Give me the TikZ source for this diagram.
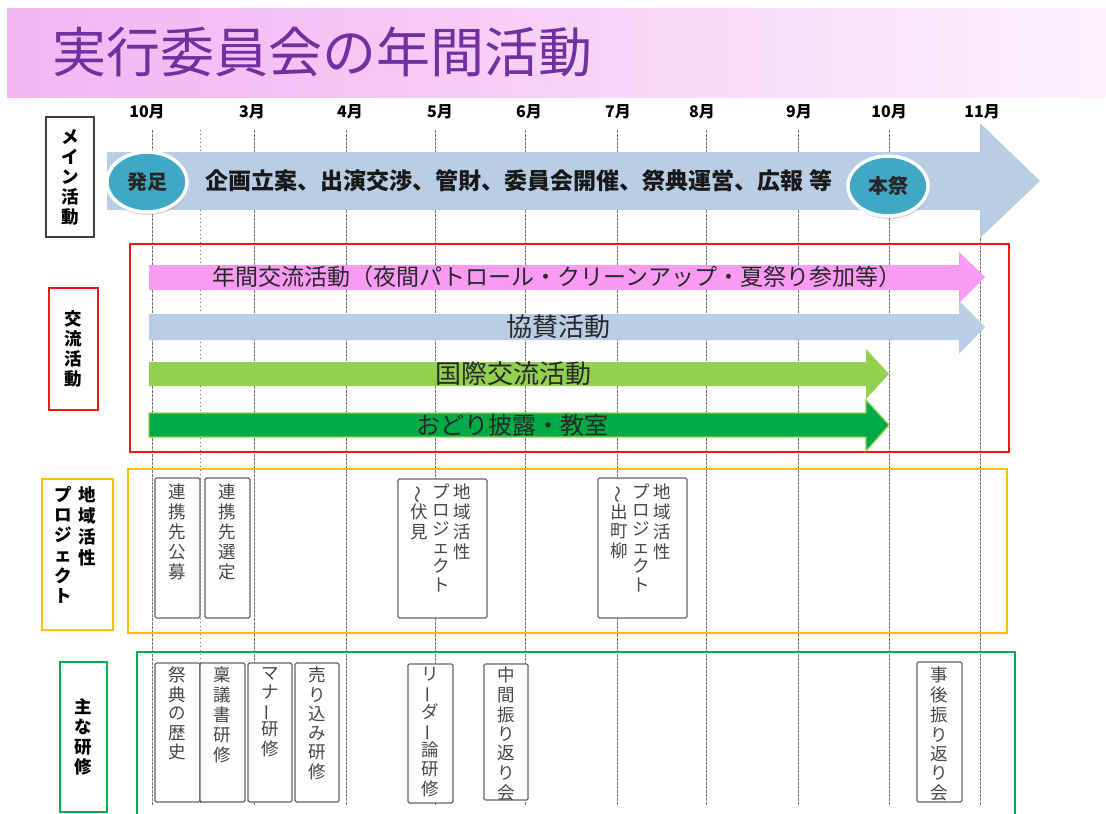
\documentclass[tikz,border=0pt]{standalone}
\usepackage{fontspec}
\setmainfont{Noto Sans CJK JP}
\usepackage{graphicx}
\usetikzlibrary{shapes.geometric,shadows}
\definecolor{titlepurple}{RGB}{112,48,160}
\definecolor{mainblue}{RGB}{185,205,229}
\definecolor{pinkbar}{RGB}{249,155,243}
\definecolor{lgreen}{RGB}{146,208,80}
\definecolor{dgreen}{RGB}{0,170,70}
\definecolor{redc}{RGB}{240,20,20}
\definecolor{orangec}{RGB}{255,192,0}
\definecolor{greenc}{RGB}{0,176,80}
\definecolor{tealc}{RGB}{64,168,196}
\definecolor{gridc}{RGB}{115,115,115}
\definecolor{itemtext}{RGB}{70,70,70}
\definecolor{itemline}{RGB}{100,100,100}
\definecolor{bartext}{RGB}{40,40,40}
\pgfdeclarehorizontalshading{tband}{100bp}{rgb(0bp)=(0.93,0.62,0.93); rgb(40bp)=(0.96,0.77,0.96); rgb(85bp)=(1,1,1); rgb(100bp)=(0.95,0.96,0.98)}
\newcommand\vcol[1]{\begin{tabular}[t]{@{}c@{}}#1\end{tabular}}
\newcommand\vlong{\rotatebox[origin=c]{90}{ー}}
\newcommand\vwave{\rotatebox[origin=c]{90}{～}}
\begin{document}
\begin{tikzpicture}[x=1pt,y=-1pt,
  gridline/.style={gridc, line width=0.8pt, dash pattern=on 2.5pt off 1.5pt},
  fineline/.style={gridc, line width=0.8pt, dash pattern=on 1.2pt off 2.8pt},
  month/.style={font=\fontsize{16}{16}\selectfont\bfseries, inner sep=0pt},
  sidebox/.style={draw=#1, line width=2.5pt, fill=white},
  sidetext/.style={font=\fontsize{17.5}{20}\selectfont\bfseries, inner sep=0pt, align=center},
  secbox/.style={draw=#1, line width=2.5pt},
  itembox/.style={draw=itemline, line width=1.2pt, fill=white, rounded corners=1.5pt},
  itemtext/.style={text=itemtext, font=\fontsize{17.5}{17.7}\selectfont, inner sep=0pt, anchor=north},
  bubble/.style={ellipse, draw=white, line width=3.5pt, fill=tealc, minimum width=80pt, minimum height=60pt, inner sep=0pt,
     font=\fontsize{20}{20}\selectfont\bfseries, text=black!85, drop shadow={opacity=0.3, shadow xshift=1pt, shadow yshift=-3pt}},
  bartxt/.style={text=bartext, inner sep=0pt}
]
\clip (0,0) rectangle (1106,814);
\fill[white] (0,0) rectangle (1106,814);
% title band
\shade[shading=tband] (7,8) rectangle (1106,97);
\node[anchor=west, text=titlepurple, font=\fontsize{54}{54}\selectfont, inner sep=0pt] (title) at (52,52) {実行委員会の年間活動};
% months
\foreach \x/\m [count=\i] in {147/10月,252/3月,350/4月,440/5月,529/6月,618/7月,702/8月,799/9月,889/10月,982/11月}
  \node[month] (m\i) at (\x,112) {\m};
% grid lines
\foreach \x in {152,254,346,435,525,617,706,798,889,980}
  \draw[gridline] (\x,130) -- (\x,806);
\draw[fineline] (200,130) -- (200,806);
% main arrow
\fill[mainblue] (107,152) -- (980,152) -- (980,123) -- (1040,181) -- (980,238) -- (980,210) -- (107,210) -- cycle;
\node[bartxt, text=black!90, font=\fontsize{23}{23}\selectfont\bfseries] (maintxt) at (519,181) {企画立案、出演交渉、管財、委員会開催、祭典運営、広報 等};
\node[bubble] (hossoku) at (147,182) {発足};
\node[bubble] (honsai) at (888,186) {本祭};
% section boxes
\draw[secbox=redc] (130,244) rectangle (1009,452);
\draw[secbox=orangec] (128,469) rectangle (1007,633);
\draw[secbox=greenc] (137,652) rectangle (1015,830);
% exchange arrows
\fill[pinkbar] (149,265) -- (959,265) -- (959,252) -- (985,277) -- (959,303) -- (959,290) -- (149,290) -- cycle;
\fill[mainblue] (149,314) -- (959,314) -- (959,301) -- (985,327) -- (959,354) -- (959,340) -- (149,340) -- cycle;
\fill[lgreen] (149,362) -- (866,362) -- (866,349) -- (889,374) -- (866,399) -- (866,386) -- (149,386) -- cycle;
\filldraw[fill=dgreen, draw=lgreen, line width=1.2pt] (149,413) -- (866,413) -- (866,400) -- (889,425) -- (866,451) -- (866,437) -- (149,437) -- cycle;
\node[bartxt, font=\fontsize{23}{23}\selectfont] (nenkan) at (557,277) {年間交流活動（夜間パトロール・クリーンアップ・夏祭り参加等）};
\node[bartxt, font=\fontsize{26}{26}\selectfont] (kyosan) at (558,327) {協賛活動};
\node[bartxt, font=\fontsize{26}{26}\selectfont] (kokusai) at (513,374) {国際交流活動};
\node[bartxt, font=\fontsize{24}{24}\selectfont] (odori) at (512,425) {おどり披露・教室};
% side labels
\draw[sidebox=black!75, line width=1.6pt] (46,117) rectangle (94,237);
\node[sidetext] (lmain) at (70,177) {メ\\イ\\ン\\活\\動};
\draw[sidebox=redc] (49,288) rectangle (98,410);
\node[sidetext] (lkoryu) at (73,349) {交\\流\\活\\動};
\draw[sidebox=orangec] (42,479) rectangle (113,630);
\node[sidetext, anchor=north] (lchiiki) at (75,486) {\vcol{プ\\ロ\\ジ\\ェ\\ク\\ト}\hspace{6pt}\vcol{地\\域\\活\\性}};
\draw[sidebox=greenc] (60,662) rectangle (107,812);
\node[sidetext] (lkenshu) at (83,737) {主\\な\\研\\修};
% project boxes
\draw[itembox] (155,478) rectangle (200,618);
\node[itemtext] (p1) at (177.5,484) {\vcol{連\\携\\先\\公\\募}};
\draw[itembox] (205,478) rectangle (250,618);
\node[itemtext] (p2) at (227.5,484) {\vcol{連\\携\\先\\選\\定}};
\draw[itembox] (398,479) rectangle (487,618);
\node[itemtext] (p3) at (441,484) {\vcol{\vwave\\伏\\見}\hspace{4pt}\vcol{プ\\ロ\\ジ\\ェ\\ク\\ト}\hspace{4pt}\vcol{地\\域\\活\\性}};
\draw[itembox] (598,478) rectangle (687,618);
\node[itemtext] (p4) at (641,484) {\vcol{\vwave\\出\\町\\柳}\hspace{4pt}\vcol{プ\\ロ\\ジ\\ェ\\ク\\ト}\hspace{4pt}\vcol{地\\域\\活\\性}};
% training boxes
\draw[itembox] (155,663) rectangle (200,802);
\node[itemtext] (t1) at (177.5,667) {\vcol{祭\\典\\の\\歴\\史}};
\draw[itembox] (200,663) rectangle (245,802);
\node[itemtext] (t2) at (222.5,667) {\vcol{稟\\議\\書\\研\\修}};
\draw[itembox] (248,663) rectangle (292,802);
\node[itemtext] (t3) at (270,667) {\vcol{マ\\ナ\\\vlong\\研\\修}};
\draw[itembox] (295,663) rectangle (339,802);
\node[itemtext] (t4) at (317,667) {\vcol{売\\り\\込\\み\\研\\修}};
\draw[itembox] (408,664) rectangle (453,803);
\node[itemtext] (t5) at (430.5,667) {\vcol{リ\\\vlong\\ダ\\\vlong\\論\\研\\修}};
\draw[itembox] (484,664) rectangle (528,800);
\node[itemtext] (t6) at (506,667) {\vcol{中\\間\\振\\り\\返\\り\\会}};
\draw[itembox] (917,662) rectangle (962,802);
\node[itemtext] (t7) at (939.5,667) {\vcol{事\\後\\振\\り\\返\\り\\会}};
\end{tikzpicture}
\end{document}
